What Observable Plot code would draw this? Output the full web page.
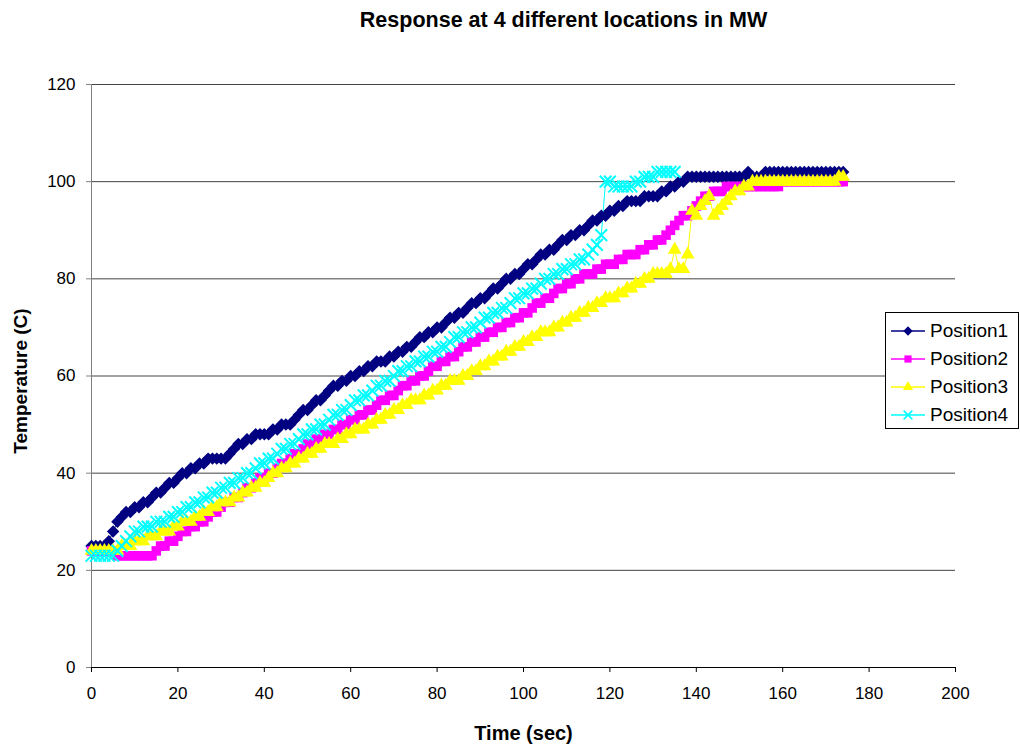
<!DOCTYPE html>
<html>
<head>
<meta charset="utf-8">
<script src="https://cdn.jsdelivr.net/npm/d3@7"></script>
<script src="https://cdn.jsdelivr.net/npm/@observablehq/plot@0.6"></script>
<style>
  body { margin: 0; background: #fff; font-family: "Liberation Sans", Arial, sans-serif; }
  #wrap { position: relative; width: 1020px; height: 747px; overflow: hidden; }
  #legend { position: absolute; left: 885px; top: 312px; width: 134px; height: 117px; border: 1px solid #000; background: #fff; box-sizing: border-box; }
  .row { position: absolute; left: 0; height: 24px; display: flex; align-items: center; font-size: 19px; color: #000; white-space: nowrap; }
  .row svg { display: block; margin-left: 5px; margin-right: 5px; }
</style>
</head>
<body>
<div id="wrap"></div>
<script>
// ---- Data (temperature in °C, sampled once per second) ----
const seriesNames = ["Position1", "Position2", "Position3", "Position4"];
const seriesColors = ["#000080", "#FF00FF", "#FFFF00", "#00FFFF"];
const xTicks = [0, 20, 40, 60, 80, 100, 120, 140, 160, 180, 200];
const yTicks = [0, 20, 40, 60, 80, 100, 120];

const position1 = [
  25,25,25,25,26,28,30,31,32,32,
  33,33,34,34,35,36,36,37,38,38,
  39,40,40,41,41,42,42,43,43,43,
  43,43,44,45,46,46,47,47,48,48,
  48,48,49,49,50,50,50,51,52,53,
  53,54,55,55,56,57,58,58,59,59,
  60,60,61,61,62,62,63,63,63,64,
  64,65,65,66,66,67,68,68,69,69,
  70,70,71,72,72,73,73,74,75,75,
  76,76,77,78,78,79,80,80,81,81,
  82,83,83,84,85,85,86,86,87,88,
  88,89,89,90,90,91,92,92,93,93,
  94,94,95,95,96,96,96,96,97,97,
  97,97,98,98,99,99,100,100,101,101,
  101,101,101,101,101,101,101,101,101,101,
  101,101,102,101,101,101,102,102,102,102,
  102,102,102,102,102,102,102,102,102,102,
  102,102,102,102,102
];
const position2 = [
  24,24,24,24,24,24,23,23,23,23,
  23,23,23,23,23,24,25,25,26,26,
  27,28,28,29,29,30,30,31,32,32,
  33,34,34,35,35,36,37,37,38,39,
  39,40,40,41,42,42,43,44,44,45,
  46,46,47,47,48,48,49,49,50,50,
  51,51,52,52,53,53,54,55,55,56,
  56,57,58,58,59,59,60,60,61,62,
  62,63,63,64,64,65,66,66,67,67,
  68,68,69,69,70,70,71,71,72,72,
  73,73,74,75,75,76,76,77,78,78,
  79,79,80,80,81,81,81,82,82,83,
  83,83,84,84,85,85,85,86,86,87,
  87,88,88,89,90,91,92,93,93,94,
  95,96,97,97,98,98,98,99,99,99,
  99,99,99,99,99,99,99,99,99,99,
  100,100,100,100,100,100,100,100,100,100,
  100,100,100,100,100
];
const position3 = [
  24,24,24,24,24,24,24,25,25,25,
  26,26,26,27,27,27,28,28,28,29,
  29,30,30,30,31,31,32,32,33,33,
  34,34,34,35,35,36,36,37,37,38,
  38,39,40,40,41,41,42,42,43,43,
  44,44,45,45,46,46,46,47,47,48,
  48,49,49,49,50,50,51,51,52,52,
  53,53,54,54,55,55,55,56,56,57,
  57,58,58,59,59,59,60,60,61,61,
  62,62,63,63,64,64,65,65,66,66,
  67,67,68,68,69,69,69,70,70,71,
  71,72,72,73,73,74,74,75,75,76,
  76,76,77,77,78,78,79,79,80,80,
  81,81,81,81,82,86,82,82,85,94,
  93,95,96,97,93,94,95,96,97,98,
  98,99,99,100,100,100,100,100,100,100,
  100,100,100,100,100,100,100,100,100,100,
  100,100,100,101,101
];
const position4 = [
  23,23,23,23,23,23,24,25,26,27,
  28,28,29,29,29,30,30,30,31,31,
  32,32,33,33,34,34,35,35,36,36,
  37,37,38,38,39,39,40,40,41,42,
  42,43,43,44,45,45,46,46,47,48,
  48,49,49,50,50,51,52,52,53,53,
  54,55,55,56,56,57,58,58,59,59,
  60,61,61,62,62,63,63,64,64,65,
  65,66,66,67,68,68,69,69,70,70,
  71,72,72,73,73,74,74,75,76,76,
  77,77,78,78,79,80,80,81,81,82,
  82,83,83,84,84,85,86,87,89,100,
  100,99,99,99,99,99,100,100,101,101,
  101,102,102,102,102,102
];

const seriesValues = [position1, position2, position3, position4];
const symbols = ["diamond2", "square", "triangle", "times"];
const symbolR = [5.6, 5.4, 5.1, 5.4];
const d3Symbols = [d3.symbolDiamond2, d3.symbolSquare, d3.symbolTriangle, d3.symbolTimes];

const FONT = "'Liberation Sans', Arial, sans-serif";

const marks = [
  Plot.ruleY(yTicks.filter(v => v > 0), {stroke: "#444", strokeWidth: 1}),
  Plot.ruleX([0], {stroke: "#808080", strokeWidth: 1}),
  Plot.ruleY([0], {stroke: "#000", strokeWidth: 1}),
  Plot.axisX({ticks: xTicks, tickSize: 5, tickPadding: 14, fontSize: 17, label: null, stroke: "#000"}),
  Plot.axisY({ticks: yTicks, tickSize: 5, tickPadding: 11, fontSize: 17, label: null, stroke: "#808080"})
];

seriesValues.forEach((vals, k) => {
  marks.push(Plot.lineY(vals, {x: (d, i) => i, y: d => d, stroke: seriesColors[k], strokeWidth: 1}));
});
seriesValues.forEach((vals, k) => {
  const isStroke = symbols[k] === "times";
  marks.push(Plot.dot(vals, {
    x: (d, i) => i, y: d => d,
    symbol: symbols[k], r: symbolR[k],
    fill: isStroke ? "none" : seriesColors[k],
    stroke: isStroke ? seriesColors[k] : "none",
    strokeWidth: isStroke ? 2 : 0
  }));
});

marks.push(
  Plot.text(["Response at 4 different locations in MW"], {frameAnchor: "top", textAnchor: "middle", lineAnchor: "middle", dx: 40, dy: -64, text: d => d, fontSize: 21.5, fontWeight: "bold", fill: "#000"}),
  Plot.text(["Time (sec)"], {frameAnchor: "bottom", textAnchor: "middle", lineAnchor: "middle", dy: 66, text: d => d, fontSize: 20, fontWeight: "bold", fill: "#000"}),
  Plot.text(["Temperature (C)"], {frameAnchor: "left", textAnchor: "middle", lineAnchor: "middle", dx: -71, dy: 5, rotate: -90, text: d => d, fontSize: 19, fontWeight: "bold", fill: "#000"})
);

const chart = Plot.plot({
  width: 1020,
  height: 747,
  marginLeft: 91,
  marginRight: 65,
  marginTop: 84,
  marginBottom: 80,
  x: {domain: [0, 200]},
  y: {domain: [0, 120]},
  style: {fontFamily: FONT, background: "#fff", color: "#000"},
  marks
});

const wrap = document.getElementById("wrap");
wrap.appendChild(chart);

// Legend (Excel-style box)
const legend = document.createElement("div");
legend.id = "legend";
const rowCenters = [18, 46, 74, 102];
seriesNames.forEach((name, k) => {
  const row = document.createElement("div");
  row.className = "row";
  row.style.top = (rowCenters[k] - 12) + "px";
  const ns = "http://www.w3.org/2000/svg";
  const svg = document.createElementNS(ns, "svg");
  svg.setAttribute("width", 34);
  svg.setAttribute("height", 16);
  const line = document.createElementNS(ns, "line");
  line.setAttribute("x1", 0); line.setAttribute("x2", 34);
  line.setAttribute("y1", 8); line.setAttribute("y2", 8);
  line.setAttribute("stroke", seriesColors[k]); line.setAttribute("stroke-width", 1.5);
  svg.appendChild(line);
  const path = document.createElementNS(ns, "path");
  const lr = symbolR[k] * 0.75;
  path.setAttribute("d", d3.symbol(d3Symbols[k], Math.PI * lr * lr)());
  path.setAttribute("transform", "translate(17,8)");
  if (symbols[k] === "times") {
    path.setAttribute("fill", "none"); path.setAttribute("stroke", seriesColors[k]); path.setAttribute("stroke-width", 1.6);
  } else {
    path.setAttribute("fill", seriesColors[k]);
  }
  svg.appendChild(path);
  row.appendChild(svg);
  const label = document.createElement("span");
  label.textContent = name;
  row.appendChild(label);
  legend.appendChild(row);
});
wrap.appendChild(legend);
</script>
</body>
</html>
